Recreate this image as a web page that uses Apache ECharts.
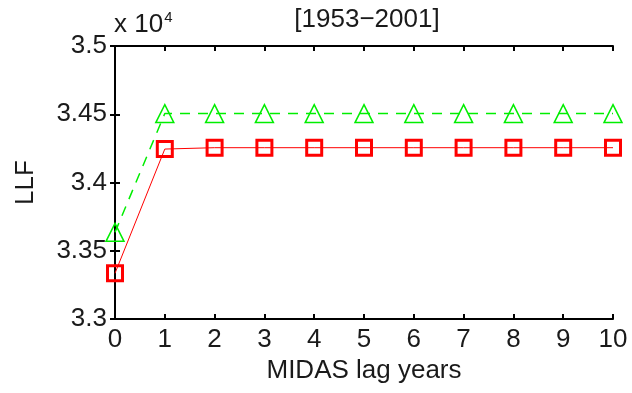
<!DOCTYPE html>
<html>
<head>
<meta charset="utf-8">
<script src="https://cdn.jsdelivr.net/npm/echarts@6/dist/echarts.min.js"></script>
<style>
  html, body { margin: 0; padding: 0; background: #fff; }
  #chart { width: 632px; height: 393px; }
</style>
</head>
<body>
<div id="chart"></div>
<script>
const lagYears = [0, 1, 2, 3, 4, 5, 6, 7, 8, 9, 10];
const redLLF = [33335, 34245, 34255, 34255, 34255, 34255, 34255, 34255, 34255, 34255, 34255];
const greenLLF = [33635, 34505, 34505, 34505, 34505, 34505, 34505, 34505, 34505, 34505, 34505];

const FONT = '"Liberation Sans", Arial, sans-serif';
const FS = 26;
const TEXT = '#1a1a1a';
const RED = '#ff0000';
const GREEN = '#00ee00';

const chart = echarts.init(document.getElementById('chart'));

const formatY = (v) => String(+(v / 1e4).toFixed(2));

const tickStyle = { inside: true, length: 5, lineStyle: { color: '#000', width: 2 } };
const lineStyle = { show: true, lineStyle: { color: '#000', width: 2 } };

chart.setOption({
  animation: false,
  backgroundColor: '#fff',
  title: {
    text: '[1953\u22122001]',
    left: 362,
    textAlign: 'center',
    top: 2,
    textStyle: { fontFamily: FONT, fontSize: FS, fontWeight: 'normal', color: TEXT },
  },
  grid: { left: 115, right: 19, top: 46, bottom: 74, outerBoundsMode: 'none' },
  xAxis: [
    {
      type: 'value',
      min: 0,
      max: 10,
      interval: 1,
      name: 'MIDAS lag years',
      nameLocation: 'middle',
      nameGap: 39,
      nameTextStyle: { fontFamily: FONT, fontSize: FS, color: TEXT },
      axisLine: lineStyle,
      axisTick: tickStyle,
      axisLabel: { fontFamily: FONT, fontSize: FS, color: TEXT, margin: 8 },
      splitLine: { show: false },
    },
    {
      type: 'value',
      position: 'top',
      min: 0,
      max: 10,
      interval: 1,
      axisLine: lineStyle,
      axisTick: tickStyle,
      axisLabel: { show: false },
      splitLine: { show: false },
    },
  ],
  yAxis: [
    {
      type: 'value',
      min: 33000,
      max: 35000,
      interval: 500,
      name: 'LLF',
      nameLocation: 'middle',
      nameGap: 76,
      nameTextStyle: { fontFamily: FONT, fontSize: FS, color: TEXT },
      axisLine: lineStyle,
      axisTick: tickStyle,
      axisLabel: { fontFamily: FONT, fontSize: FS, color: TEXT, margin: 8, formatter: formatY },
      splitLine: { show: false },
    },
    {
      type: 'value',
      position: 'right',
      min: 33000,
      max: 35000,
      interval: 500,
      axisLine: lineStyle,
      axisTick: tickStyle,
      axisLabel: { show: false },
      splitLine: { show: false },
    },
  ],
  graphic: [
    {
      type: 'text',
      left: 114,
      top: 10,
      style: {
        text: 'x 10{sup|4}',
        font: FS + 'px ' + FONT,
        fill: TEXT,
        rich: { sup: { fontSize: 15, fontFamily: FONT, verticalAlign: 'top', padding: [0, 0, 14, 1], fill: TEXT } },
      },
    },
  ],
  series: [
    {
      name: 'Red',
      type: 'line',
      data: lagYears.map((x, i) => [x, redLLF[i]]),
      symbol: 'rect',
      symbolSize: 15,
      lineStyle: { color: RED, width: 1 },
      itemStyle: { color: 'transparent', borderColor: RED, borderWidth: 3 },
      z: 3,
    },
    {
      name: 'Green',
      type: 'line',
      data: lagYears.map((x, i) => [x, greenLLF[i]]),
      symbol: 'triangle',
      symbolSize: 18,
      lineStyle: { color: GREEN, width: 1.5, type: [10, 8] },
      itemStyle: { color: 'transparent', borderColor: GREEN, borderWidth: 1.5 },
      z: 2,
    },
  ],
});
</script>
</body>
</html>
